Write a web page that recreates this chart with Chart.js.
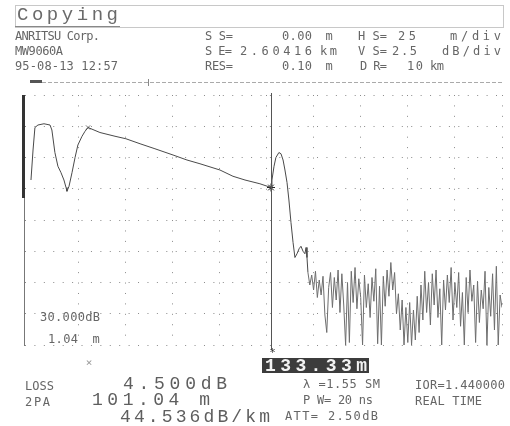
<!DOCTYPE html>
<html><head><meta charset="utf-8">
<script src="https://cdn.jsdelivr.net/npm/chart.js@4/dist/chart.umd.min.js"></script>
<style>html,body{margin:0;padding:0;background:#fff;overflow:hidden}</style>
</head><body>
<canvas id="c" width="510" height="426"></canvas>
<script>
// ---- data (distance in m, level in dB) ----
const traceDistM = [0.0,1.1,2.1,3.7,6.9,10.1,11.1,12.7,14.3,15.9,17.5,18.6,19.1,20.2,21.8,23.4,24.9,27.1,28.7,30.3,36.6,44.6,50.4,57.9,65.8,75.4,82.8,89.7,100.3,107.2,113.6,121.5,127.4,127.9,129.0,130.0,131.6,132.7,133.8,134.8,135.9,136.9,138.0,139.1,140.1,141.2,142.3,143.3,144.4,145.4,146.0,146.5,147.0];
const traceLevelDb = [13.2,15.6,17.4,17.6,17.7,17.6,17.2,15.4,14.3,13.8,13.2,12.6,12.3,12.7,13.8,15.0,16.0,16.7,17.1,17.4,17.0,16.7,16.5,16.1,15.7,15.2,14.8,14.5,14.0,13.5,13.2,12.9,12.6,13.2,14.3,15.0,15.4,15.3,14.8,14.0,13.0,11.6,9.8,8.2,7.0,7.3,7.7,7.9,7.5,7.3,7.8,7.0,5.8];
const noiseDistM = [148,149,150,151,152,153,154,155,156,157,158,159,160,161,162,163,164,165,166,167,168,169,170,171,172,173,174,175,176,177,178,179,180,181,182,183,184,185,186,187,188,189,190,191,192,193,194,195,196,197,198,199,200,201,202,203,204,205,206,207,208,209,210,211,212,213,214,215,216,217,218,219,220,221,222,223,224,225,226,227,228,229,230,231,232,233,234,235,236,237,238,239,240,241,242,243,244,245,246,247,248,249,250];
const noiseLevelDb = [4.8,5.6,4.4,5.9,3.8,5.2,4.0,5.5,2.4,1.0,
 4.6,5.8,3.0,5.4,3.6,6.0,2.6,5.7,3.2,0.0,
 5.0,0.2,5.9,3.4,6.2,2.9,5.3,3.8,0.0,5.6,
 3.0,4.9,2.2,5.4,3.5,6.1,0.1,4.7,0.0,5.5,
 3.1,6.0,3.9,6.6,4.4,5.8,2.5,4.1,1.2,3.6,
 0.0,3.0,0.2,3.4,0.0,2.8,0.4,3.9,1.0,4.8,
 2.0,5.9,2.6,5.0,1.6,5.7,3.2,6.0,2.2,4.5,
 0.0,5.2,2.8,5.6,3.4,6.2,2.0,5.0,3.0,5.8,
 1.5,4.2,0.0,5.4,2.6,6.0,3.5,4.8,0.2,5.1,
 1.8,4.4,2.9,5.9,0.0,4.6,2.3,5.7,1.2,6.3,
 0.0,4.0,3.0];
const markerDistM = [30.3, 127.4];      // marker x, cursor *
const markerLevelDb = [17.4, 12.6];
const xRangeM = [-3.7, 250];            // 25 m/div
const yRangeDb = [0, 20];               // 2.5 dB/div

// ---- text helpers ----
function spread(ctx, s, x0, x1, y, font, color) {
  ctx.font = font; ctx.fillStyle = color; ctx.textAlign = 'center'; ctx.textBaseline = 'middle';
  const n = s.length, cw = ctx.measureText('0').width;
  if (n === 1) { ctx.fillText(s, (x0 + x1) / 2, y); return; }
  const step = (x1 - x0 - cw) / (n - 1);
  for (let i = 0; i < n; i++) ctx.fillText(s[i], x0 + cw / 2 + i * step, y);
}
const SM = '12px "DejaVu Sans Mono"', BIG = '18px "Liberation Mono"', GREY = '#666';

const deco = {
  id: 'deco',
  beforeDraw(ch) { const c = ch.ctx; c.save(); c.fillStyle = '#fff'; c.fillRect(0, 0, ch.width, ch.height); c.restore(); },
  afterDraw(ch) {
    const c = ch.ctx, xs = ch.scales.x;
    c.save();
    // header box
    c.strokeStyle = '#c8c8c8'; c.lineWidth = 1; c.strokeRect(15.5, 5.5, 488, 22);
    c.strokeStyle = '#888'; c.beginPath(); c.moveTo(15, 26.5); c.lineTo(120, 26.5); c.stroke();
    spread(c, 'Copying', 17, 118, 15, '19px "Liberation Mono"', '#6a6a6a');
    // header rows
    [['ANRITSU Corp.',15,100,37],['MW9060A',15,63,52],['95-08-13 12:57',15,118,67],
     ['S S=',205,233,37],['0.00',282,312,37],['m',325,333,37],['H S=',358,387,37],['25',398,416,37],['m/div',450,501,37],
     ['S E=',205,232,52],['2.60416',240,312,52],['km',320,337,52],['V S=',358,387,52],['2.5',392,417,52],['dB/div',442,501,52],
     ['RES=',205,233,67],['0.10',282,312,67],['m',325,333,67],['D R=',360,387,67],['10',407,423,67],['km',430,444,67]
    ].forEach(t => spread(c, t[0], t[1], t[2], t[3], SM, GREY));
    // scroll bar line
    c.strokeStyle = '#aaa'; c.lineWidth = 1; c.setLineDash([4, 2]); c.beginPath(); c.moveTo(30, 82.5); c.lineTo(503, 82.5); c.stroke(); c.setLineDash([]);
    c.fillStyle = '#555'; c.fillRect(30, 80, 12, 3);
    c.strokeStyle = '#888'; c.beginPath(); c.moveTo(148.5, 79); c.lineTo(148.5, 86); c.stroke();
    // thick level bar
    c.fillStyle = '#333'; c.fillRect(22, 95, 3, 103);
    // cursor line
    const cx = Math.round(xs.getPixelForValue(markerDistM[1])) + 0.5;
    c.strokeStyle = '#555'; c.lineWidth = 1; c.beginPath(); c.moveTo(cx, 93); c.lineTo(cx, 350); c.stroke();
    c.font = '11px "DejaVu Sans Mono"'; c.fillStyle = '#333'; c.textAlign = 'center'; c.textBaseline = 'middle';
    c.fillText('*', cx + 1, 353);
    // marker x below axis
    c.fillStyle = '#999'; c.fillText('×', xs.getPixelForValue(markerDistM[0]) + 1, 363);
    // in-plot labels
    spread(c, '30.000dB', 40, 100, 318, SM, GREY);
    spread(c, '1.04', 48, 78, 340, SM, GREY);
    spread(c, 'm', 92, 100, 340, SM, GREY);
    // cursor value box
    c.fillStyle = '#3c3c3c'; c.fillRect(262, 358, 107, 15);
    spread(c, '133.33m', 265, 367, 366, 'bold 18px "Liberation Mono"', '#f2f2f2');
    // bottom readouts
    spread(c, 'LOSS', 25, 54, 387, SM, GREY);
    spread(c, '2PA', 25, 50, 403, SM, GREY);
    spread(c, '4.500dB', 123, 227, 384, BIG, '#5e5e5e');
    spread(c, '101.04 m', 92, 210, 400, BIG, '#5e5e5e');
    spread(c, '44.536dB/km', 120, 270, 417, BIG, '#5e5e5e');
    spread(c, 'λ =1.55 SM', 303, 380, 385, SM, GREY);
    spread(c, 'IOR=1.440000', 415, 505, 386, SM, GREY);
    spread(c, 'P W= 20 ns', 303, 373, 401, SM, GREY);
    spread(c, 'REAL TIME', 415, 482, 402, SM, GREY);
    spread(c, 'ATT= 2.50dB', 285, 378, 417, SM, GREY);
    c.restore();
  }
};

const tracePts = traceDistM.map((d, i) => ({x: d, y: traceLevelDb[i]}))
  .concat(noiseDistM.map((d, i) => ({x: d, y: noiseLevelDb[i]})));
const noiseFrom = noiseDistM[0] - 1;

new Chart(document.getElementById('c'), {
  type: 'line',
  data: { datasets: [
    { data: tracePts, borderColor: '#4a4a4a', borderWidth: 1, pointRadius: 0, tension: 0, fill: false,
      segment: { borderColor: ctx => ctx.p0.parsed.x >= noiseFrom ? '#6e6e6e' : '#4a4a4a' } },
    { type: 'scatter', data: [{x: markerDistM[0], y: markerLevelDb[0]}], pointStyle: 'crossRot', pointRadius: 3, borderColor: '#777', borderWidth: 1 },
    { type: 'scatter', data: [{x: markerDistM[1], y: markerLevelDb[1]}], pointStyle: 'star', pointRadius: 4, borderColor: '#222', borderWidth: 1 }
  ]},
  options: {
    responsive: false, animation: false, devicePixelRatio: 1,
    layout: { padding: { left: 24, top: 95, right: 8, bottom: 81 } },
    plugins: { legend: { display: false }, tooltip: { enabled: false } },
    scales: {
      x: { type: 'linear', min: xRangeM[0], max: xRangeM[1],
           afterBuildTicks: s => { s.ticks = s.ticks.filter(t => t.value >= 0 && Math.abs(t.value % 25) < 1e-6); },
           ticks: { display: false, stepSize: 25 },
           grid: { color: '#8a8a8a', lineWidth: 1, drawTicks: false, tickLength: 0 },
           border: { display: false, dash: [1, 9.42] } },
      y: { min: yRangeDb[0], max: yRangeDb[1],
           ticks: { display: false, stepSize: 2.5 },
           grid: { color: '#8a8a8a', lineWidth: 1, drawTicks: false, tickLength: 0 },
           border: { display: true, color: '#777', width: 1, dash: [1, 8.42] } }
    }
  },
  plugins: [deco]
});
</script>
</body></html>
